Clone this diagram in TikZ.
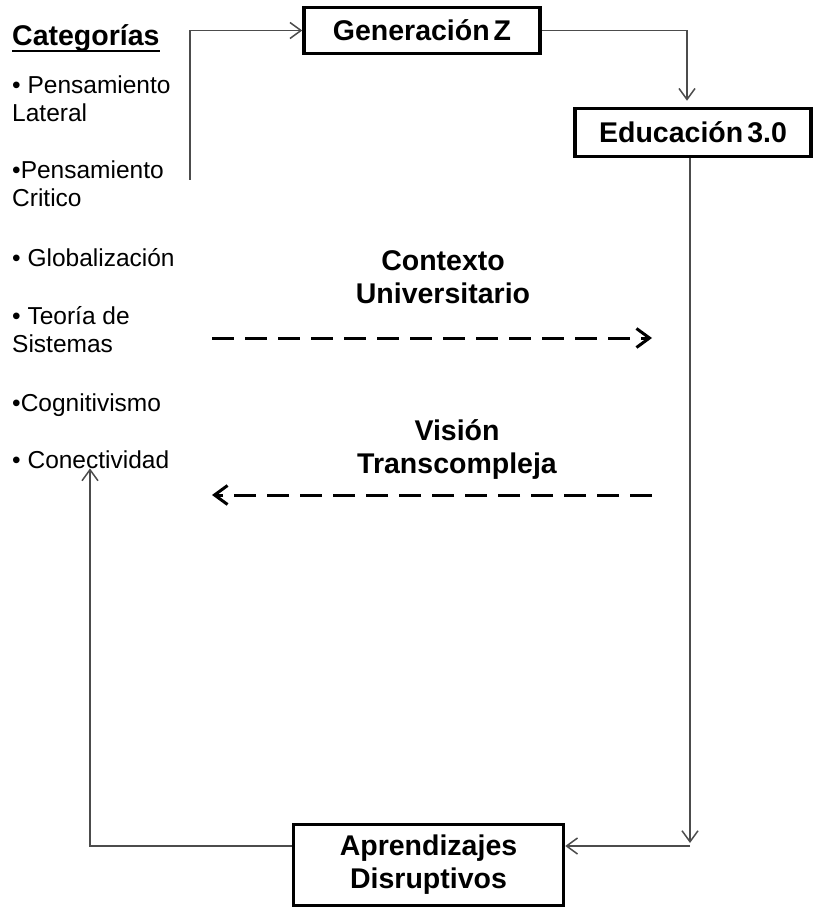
\documentclass[tikz,border=0pt]{standalone}
\usepackage{fontspec}
\setmainfont{Liberation Sans}
\usetikzlibrary{arrows.meta,calc}
\newcommand\ulcat[1]{\setbox0\hbox{#1}\rlap{\raisebox{-6pt}{\rule{\wd0}{2pt}}}\box0}
\tikzset{
 box/.style={draw=black,line width=3.5pt,fill=white,font=\fontsize{28.5}{33}\selectfont\bfseries,align=center,inner sep=0pt},
 conn/.style={draw=black!70,line width=1.5pt,-{Straight Barb[length=11pt,width=16pt]}},
 dasharrow/.style={draw=black,line width=3pt,dash pattern=on 22pt off 11pt,-{Straight Barb[length=13pt,width=19pt,line width=3pt]}},
 item/.style={anchor=base west,inner sep=0pt,align=left,font=\fontsize{24.5}{28}\selectfont},
 lbl/.style={align=center,font=\fontsize{28.5}{33}\selectfont\bfseries,inner sep=0pt},
}
\begin{document}
\begin{tikzpicture}[x=1pt,y=-1pt]
\useasboundingbox (0,0) rectangle (817,909);
% title
\node[anchor=base west,inner sep=0pt,font=\fontsize{28.5}{33}\selectfont\bfseries] (cat) at (12,46) {\ulcat{Categorías}};
% items (base = last line)
\node[item] (c1) at (12,122) {• Pensamiento\\Lateral};
\node[item] (c2) at (12,207) {•Pensamiento\\Critico};
\node[item] (c3) at (12,266) {• Globalización};
\node[item] (c4) at (12,352) {• Teoría de\\Sistemas};
\node[item] (c5) at (12,411) {•Cognitivismo};
\node[item] (c6) at (12,468) {• Conectividad};
% boxes
\node[box,minimum width=236pt,minimum height=46pt] (gen) at (422,30.5) {Generación\hspace{4pt}Z};
\node[box,minimum width=236pt,minimum height=48pt] (edu) at (693,132.5) {Educación\hspace{4pt}3.0};
\node[box,minimum width=270pt,minimum height=81pt] (apr) at (428.5,865) {Aprendizajes\\Disruptivos};
% labels
\node[lbl] (ctx) at (443,277) {Contexto\\Universitario};
\node[lbl] (vis) at (457,450) {Visión\\Transcompleja};
% helper coordinates
\coordinate (s1) at (190,180);
\coordinate (k1) at (690,843);
\coordinate (k2) at (690,846);
\coordinate (d1a) at (212,338);
\coordinate (d1b) at (652,338);
\coordinate (d2a) at (652,495);
\coordinate (d2b) at (212,495);
% connectors
\draw[conn] (s1) |- (gen.west);
\draw[conn,shorten >=6pt] (gen.east) -| ([xshift=-6pt]edu.north);
\draw[conn] ([xshift=-3pt]edu.south) -- (k1);
\draw[conn] (k2) -- (k2 -| apr.east);
\draw[conn] (k2 -| apr.west) -| ([xshift=78pt]c6.south west);
\draw[dasharrow] (d1a) -- (d1b);
\draw[dasharrow] (d2a) -- (d2b);
\end{tikzpicture}
\end{document}
